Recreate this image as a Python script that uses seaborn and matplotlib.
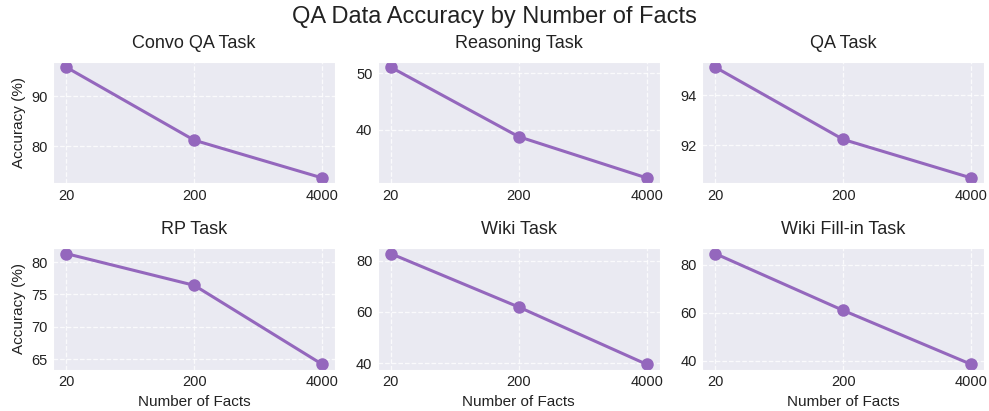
import matplotlib
matplotlib.use("Agg")
import matplotlib.pyplot as plt
import pandas as pd
import seaborn as sns

facts = ["20", "200", "4000"]
tasks = ["Convo QA Task", "Reasoning Task", "QA Task",
         "RP Task", "Wiki Task", "Wiki Fill-in Task"]
convo_qa = [95.9, 81.2, 73.6]
reasoning = [51.1, 38.8, 31.5]
qa = [95.13, 92.24, 90.7]
rp = [81.3, 76.4, 64.2]
wiki = [82.7, 61.9, 39.6]
wiki_fill = [84.6, 61.0, 38.6]
values = [convo_qa, reasoning, qa, rp, wiki, wiki_fill]

sns.set_style("darkgrid")
plt.rcParams['font.family'] = ['Liberation Sans', 'DejaVu Sans']

fig, axes = plt.subplots(2, 3, figsize=(9.89, 4.11), dpi=100)
fig.subplots_adjust(left=0.054, right=0.995, top=0.850, bottom=0.100,
                    wspace=0.152, hspace=0.53)

for i, (ax, name, vals) in enumerate(zip(axes.flat, tasks, values)):
    df = pd.DataFrame({"facts": facts, "acc": vals})
    sns.lineplot(data=df, x="facts", y="acc", ax=ax, marker="o", sort=False,
                 color="#9467bd", linewidth=2.2, markersize=9,
                 markeredgewidth=0)
    ax.set_title(name, fontsize=13, pad=10, color="#222222")
    ax.grid(True, linestyle="--", color="white", linewidth=0.9, alpha=0.8)
    ax.tick_params(labelsize=10.5, colors="#222222", length=0, pad=4)
    ax.set_xlabel("Number of Facts" if i >= 3 else "", fontsize=11, color="#222222")
    ax.set_ylabel("Accuracy (%)" if i % 3 == 0 else "", fontsize=11, color="#222222")

fig.suptitle("QA Data Accuracy by Number of Facts", fontsize=17, y=0.958,
             va="center", color="#222222")

fig.savefig("out.png", dpi=100)
